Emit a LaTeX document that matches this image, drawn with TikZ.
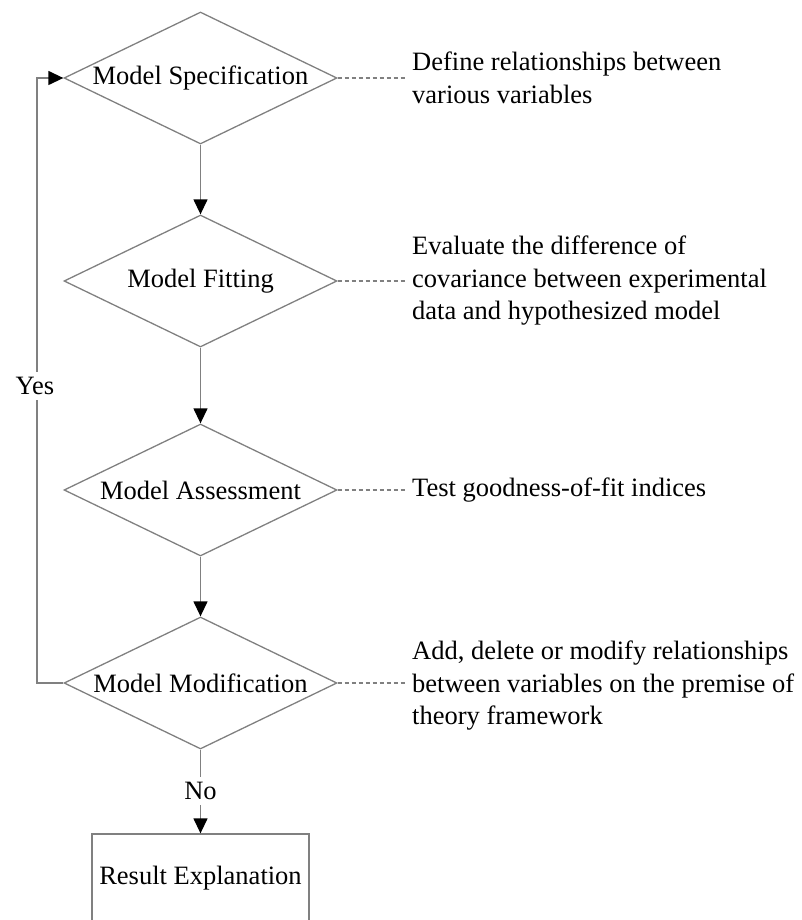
\documentclass[tikz,border=0pt]{standalone}
\usepackage{fontspec}
\setmainfont{Liberation Serif}
\usetikzlibrary{shapes.geometric,arrows.meta}

\definecolor{linegray}{RGB}{128,128,128}
\tikzset{
  txt/.style={font=\fontsize{26.5}{32.5}\selectfont},
  decision/.style={txt, shape=diamond, draw=linegray, line width=1.3pt,
    minimum width=273pt, minimum height=132pt, aspect=2.07, inner sep=0pt},
  endbox/.style={txt, shape=rectangle, draw=linegray, line width=1.3pt,
    minimum width=217pt, minimum height=88pt, inner sep=0pt},
  note/.style={txt, anchor=west, align=left, inner sep=0pt, inner xsep=6pt},
  flow/.style={draw=linegray, line width=1.3pt,
    -{Triangle[length=15pt,width=14pt,color=black]}},
  dashlink/.style={draw=linegray, line width=1.1pt, dash pattern=on 4pt off 3pt},
  tag/.style={txt, fill=white, inner sep=5pt}
}

\begin{document}
\begin{tikzpicture}[x=1pt,y=-1pt]
\useasboundingbox (0,0) rectangle (802,920);

% main column of decisions
\node[decision] (spec) at (200.5,78)  {Model Specification};
\node[decision] (fit)  at (200.5,281) {Model Fitting};
\node[decision] (ass)  at (200.5,490) {Model Assessment};
\node[decision] (mod)  at (200.5,683) {Model Modification};
\node[endbox]   (res)  at (200.5,878) {Result Explanation};

% side notes
\node[note] (nspec) at (406,78)  {Define relationships between\\various variables};
\node[note] (nfit)  at (406,281) {Evaluate the difference of\\covariance between experimental\\data and hypothesized model};
\node[note] (nass)  at (406,490) {Test goodness-of-fit indices};
\node[note] (nmod)  at (406,686) {Add, delete or modify relationships\\between variables on the premise of\\theory framework};

\draw[dashlink] (spec.east) -- (spec.east -| nspec.west);
\draw[dashlink] (fit.east)  -- (fit.east -| nfit.west);
\draw[dashlink] (ass.east)  -- (ass.east -| nass.west);
\draw[dashlink] (mod.east)  -- (mod.east -| nmod.west);

% forward flow
\draw[flow] (spec.south) -- (fit.north);
\draw[flow] (fit.south)  -- (ass.north);
\draw[flow] (ass.south)  -- (mod.north);
\draw[flow] (mod.south)  -- (res.north);
\node[tag] (no) at (200.5,791) {No};

% feedback loop
\coordinate (loop) at (37,683);
\draw[flow] (mod.west) -- (loop) |- (spec.west);
\node[tag] (yes) at (35,386) {Yes};
\end{tikzpicture}
\end{document}
